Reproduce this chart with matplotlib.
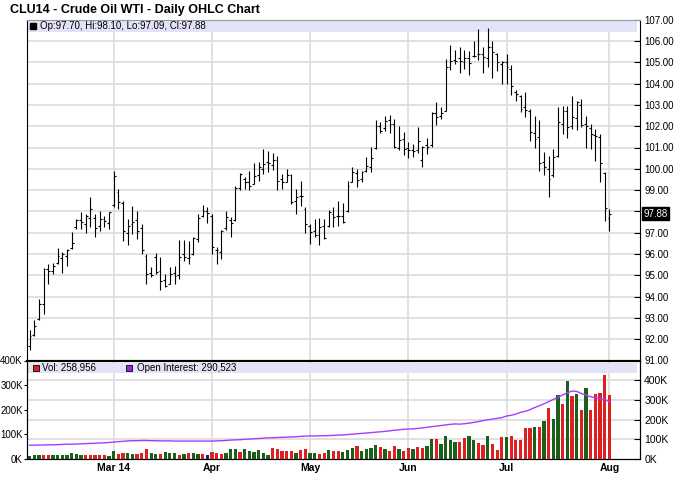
import numpy as np
import pandas as pd
import matplotlib
matplotlib.use('Agg')
import matplotlib.pyplot as plt
import matplotlib.transforms as mtransforms
from matplotlib.patches import Rectangle

plt.rcParams['font.family'] = ['Liberation Sans', 'DejaVu Sans']

# trading days, Feb 4 - Aug 1 2014 (NYMEX holidays removed)
dates = pd.bdate_range('2014-02-04', '2014-08-01')
dates = dates.drop(pd.to_datetime(['2014-02-17', '2014-04-18', '2014-05-26', '2014-07-04']))

opens = [91.70, 92.20, 92.95, 93.66, 95.30, 95.20, 95.60, 95.80, 95.90, 96.30,
         97.25, 97.60, 97.40, 97.70, 97.70, 97.30, 97.65, 97.45, 98.30, 98.90,
         98.40, 97.00, 97.40, 97.60, 97.20, 95.90, 95.10, 95.85, 95.20, 94.80,
         94.60, 95.10, 95.00, 96.00, 95.80, 96.00, 96.70, 97.80, 98.00, 97.80,
         96.20, 96.10, 97.20, 97.60, 97.60, 99.10, 99.50, 99.40, 99.30, 99.70,
         100.00, 100.30, 100.20, 100.40, 99.50, 99.40, 99.70, 98.50, 98.70, 98.10,
         97.30, 97.10, 96.90, 97.30, 97.30, 97.90, 97.80, 97.80, 98.00, 99.40,
         99.80, 99.50, 99.90, 100.10, 101.00, 102.00, 101.90, 102.30, 102.10, 101.00,
         101.40, 101.00, 100.90, 100.90, 100.40, 101.10, 101.10, 102.60, 102.50, 102.70,
         104.80, 105.10, 105.20, 105.00, 105.20, 105.30, 105.40, 105.40, 105.20, 105.70,
         105.40, 104.90, 105.00, 104.70, 103.60, 103.40, 102.90, 102.70, 101.70, 101.50,
         100.30, 100.00, 99.70, 100.60, 102.10, 102.70, 102.00, 102.40, 103.00, 102.10,
         101.90, 101.60, 101.50, 99.80, 97.70]
highs = [92.41, 92.88, 93.90, 95.35, 95.54, 95.57, 96.29, 96.08, 96.24, 97.02,
         97.65, 97.96, 97.88, 98.66, 97.88, 98.04, 97.80, 97.96, 99.90, 99.06,
         98.50, 97.65, 98.27, 98.04, 97.41, 96.00, 95.38, 96.04, 95.85, 95.07,
         95.38, 95.46, 96.66, 96.66, 96.63, 96.82, 97.88, 98.32, 98.20, 97.88,
         96.32, 97.13, 98.04, 97.76, 99.17, 99.79, 99.60, 99.92, 100.26, 100.31,
         100.93, 100.85, 100.73, 100.62, 99.76, 100.00, 99.76, 99.05, 99.45, 98.23,
         97.41, 97.65, 97.69, 97.65, 98.07, 98.20, 98.50, 98.38, 99.45, 100.10,
         100.00, 99.92, 100.54, 101.01, 102.29, 102.18, 102.50, 102.54, 102.34, 102.03,
         101.71, 101.25, 101.17, 101.95, 101.09, 101.45, 102.65, 103.15, 102.92, 105.16,
         105.83, 105.58, 105.74, 105.58, 105.55, 105.99, 106.56, 105.70, 106.61, 105.99,
         105.42, 105.05, 105.39, 104.89, 103.70, 103.48, 103.59, 102.81, 102.50, 102.29,
         100.78, 100.62, 100.93, 102.92, 102.97, 102.97, 103.44, 103.20, 103.28, 102.50,
         102.10, 101.87, 101.64, 99.87, 98.10]
lows = [91.50, 92.14, 92.88, 93.19, 94.60, 95.07, 95.54, 95.10, 95.46, 96.24,
        97.18, 97.18, 96.98, 97.26, 96.82, 97.10, 97.26, 97.18, 98.20, 98.12,
        96.63, 96.40, 96.95, 96.70, 96.00, 94.60, 94.90, 95.07, 94.32, 94.44,
        94.57, 94.57, 94.83, 95.69, 95.54, 95.93, 96.55, 97.73, 97.44, 96.00,
        95.54, 95.77, 97.13, 96.79, 97.57, 99.00, 99.06, 99.00, 99.29, 99.45,
        99.76, 99.84, 99.95, 99.00, 99.06, 99.37, 98.35, 97.88, 98.27, 96.98,
        96.47, 96.79, 96.44, 96.71, 97.26, 97.26, 97.33, 97.44, 97.96, 99.37,
        99.13, 99.37, 99.84, 99.84, 100.93, 101.67, 101.79, 101.67, 100.98, 100.89,
        100.67, 100.51, 100.54, 100.73, 100.07, 100.70, 101.01, 102.07, 102.34, 102.70,
        104.64, 104.92, 104.48, 104.69, 104.42, 105.27, 105.11, 104.48, 104.77, 104.26,
        104.58, 104.00, 103.98, 103.48, 103.17, 102.65, 102.42, 101.32, 100.98, 99.88,
        99.73, 98.66, 99.60, 100.54, 101.64, 101.45, 101.87, 101.82, 101.98, 100.98,
        100.93, 100.35, 99.37, 97.57, 97.09]
closes = [92.17, 92.60, 93.66, 95.30, 95.20, 95.45, 95.90, 96.00, 96.20, 96.50,
          97.60, 97.50, 97.80, 98.10, 97.20, 97.65, 97.57, 97.96, 99.68, 98.43,
          97.10, 97.33, 97.50, 97.10, 96.20, 95.07, 95.00, 95.15, 94.72, 94.52,
          95.07, 94.99, 95.88, 95.85, 95.88, 96.76, 97.69, 98.04, 97.91, 96.35,
          96.19, 97.10, 97.76, 97.44, 99.10, 99.76, 99.37, 99.21, 99.68, 100.07,
          100.23, 100.28, 100.42, 99.45, 99.37, 99.73, 98.43, 98.66, 98.74, 97.41,
          97.02, 96.87, 97.29, 96.76, 97.96, 97.76, 97.79, 97.49, 99.21, 99.84,
          99.48, 99.84, 100.15, 100.51, 102.03, 101.76, 102.26, 102.10, 101.01, 101.36,
          100.93, 100.89, 100.85, 101.32, 101.01, 101.01, 102.60, 102.42, 102.60, 104.77,
          105.05, 105.05, 105.05, 105.20, 104.95, 105.31, 105.39, 105.23, 105.70, 105.47,
          105.00, 105.00, 104.77, 103.90, 103.51, 102.81, 102.76, 101.71, 101.40, 100.26,
          100.07, 99.53, 100.57, 102.18, 102.73, 101.95, 102.42, 103.12, 102.07, 102.03,
          101.64, 101.56, 100.28, 98.16, 97.88]

# volume in thousands, g = up, r = down, n = unchanged
volume = [14, 15, 15, 15, 15, 18, 18, 15, 15, 23,
          21, 18, 18, 18, 15, 15, 15, 12, 34, 21,
          26, 26, 21, 21, 26, 39, 26, 21, 21, 28,
          23, 23, 18, 22, 25, 26, 21, 21, 18, 28,
          26, 22, 26, 40, 39, 28, 39, 32, 29, 37,
          26, 18, 43, 39, 33, 32, 32, 26, 36, 39,
          25, 23, 19, 26, 37, 34, 32, 29, 36, 43,
          54, 32, 39, 43, 57, 48, 39, 32, 52, 39,
          34, 43, 39, 47, 46, 52, 81, 80, 59, 95,
          76, 68, 70, 84, 95, 76, 63, 57, 95, 59,
          36, 91, 90, 95, 77, 77, 126, 126, 130, 130,
          156, 208, 164, 261, 222, 316, 257, 263, 201, 288,
          201, 263, 269, 342, 259]
vol_dir = list('gggrrggggg' 'ggrrrrrggr' 'rggrrrggrg' 'ggrgrggrnr' 'rrgggrgggg'
               'ggrrrrrgrr' 'ggrrgrrggg' 'rggggrgrrg' 'rrgrrggrgg' 'ggrrggrrgr'
               'rrgrrrrrgr' 'grggrgrgrg' 'rrrrr')
open_interest = [70, 70, 71, 71, 72, 72, 73, 74, 75, 75, 76, 77, 78, 79, 80, 81, 82, 84,
                 86, 88, 90, 92, 93, 93, 94, 94, 93, 93, 92, 92, 92, 91, 91, 91, 91, 91, 91, 91, 91,
                 91, 92, 93, 94, 96, 97, 98, 100, 101, 103, 104, 106, 107, 108, 109, 110, 111, 112, 113, 115, 116,
                 117, 117, 118, 118, 119, 120, 121, 122, 124, 126, 128, 130, 132, 134, 136, 138, 140, 143, 146, 148, 151,
                 152, 153, 155, 158, 161, 164, 167, 170, 173, 176, 178, 177, 179, 182, 186, 190, 195, 199, 203, 206, 210,
                 218, 222, 228, 237, 242, 250, 261, 270, 280, 291, 302, 314, 325, 336, 345, 343, 333, 324, 316, 311, 306, 302,
                 291]

month_labels = ['Mar 14', 'Apr', 'May', 'Jun', 'Jul', 'Aug']
price_ticks = np.arange(91, 108)
vol_ticks = [0, 100, 200, 300, 400]

x = np.arange(len(dates))
month_starts = [i for i in range(1, len(dates)) if dates[i].month != dates[i - 1].month]
dir_colors = {'g': '#1c5e1c', 'r': '#dd2020', 'n': '#1c1c6a'}
bar_colors = [dir_colors[d] for d in vol_dir]

grid_col = '#dcdcdc'
band_col = '#e3e3f8'

fig = plt.figure(figsize=(6.8, 4.82), dpi=100)
ax = fig.add_axes([27 / 680, 121.5 / 482, 613 / 680, 340.8 / 482])
axv = fig.add_axes([27 / 680, 23 / 482, 613 / 680, 98.5 / 482])

fig.text(10 / 680, 1 - 10 / 482, 'CLU14 - Crude Oil WTI - Daily OHLC Chart',
         fontsize=9, fontweight='bold', va='center', ha='left')

# price panel
ax.vlines(x, lows, highs, color='black', lw=0.8, zorder=3)
ax.hlines(opens, x - 0.4, x, color='black', lw=0.8, zorder=3)
ax.hlines(closes, x, x + 0.4, color='black', lw=0.8, zorder=3)
ax.set_xlim(-0.55, 130.55)
ax.set_ylim(91, 107)
ax.set_xticks(month_starts)
ax.set_yticks(price_ticks)
ax.set_yticklabels(['' if v == 98 else f'{v:.2f}' for v in price_ticks])
ax.yaxis.tick_right()
ax.tick_params(axis='y', direction='in', length=4, labelsize=7, pad=3)
ax.tick_params(axis='x', length=0, labelbottom=False)
ax.grid(True, color=grid_col, lw=1.2)
ax.set_axisbelow(True)
for s in ['left', 'right']:
    ax.spines[s].set_color('black')
ax.spines['top'].set_color('#9a9a9a')
ax.spines['bottom'].set_linewidth(1.5)
ax.add_patch(Rectangle((0, 0.965), 0.995, 0.035, transform=ax.transAxes,
                       color=band_col, lw=0, zorder=1.5))
ax.plot([0.0105], [0.982], marker='s', ms=4, color='black', transform=ax.transAxes)
ax.text(0.021, 0.982, 'Op:97.70, Hi:98.10, Lo:97.09, Cl:97.88', transform=ax.transAxes,
        fontsize=7, va='center', ha='left')
trans = mtransforms.blended_transform_factory(ax.transAxes, ax.transData)
ax.text(1.005, closes[-1], f'{closes[-1]:.2f}', transform=trans, color='white', fontsize=7,
        va='center', ha='left', clip_on=False,
        bbox=dict(boxstyle='square,pad=0.15', fc='black', ec='black'))

# volume panel
axv.bar(x, np.array(volume) * 1000, width=0.7, color=bar_colors, zorder=3)
axv.set_xlim(-0.55, 130.55)
axv.set_ylim(0, 400000)
axv.set_yticks([v * 1000 for v in vol_ticks])
axv.set_yticklabels([f'{v}K' for v in vol_ticks])
axv.tick_params(axis='y', direction='out', length=2, labelsize=7, pad=1)
axv.set_xticks(month_starts)
axv.set_xticklabels(month_labels, fontsize=7.5, fontweight='bold')
axv.tick_params(axis='x', length=0, pad=3)
axv.grid(True, axis='x', color=grid_col, lw=1.2)
axv.set_axisbelow(True)

axo = axv.twinx()
axo.set_ylim(0, 500000)
axo.plot(x, np.array(open_interest) * 1000, color='#a63cff', lw=1, zorder=4)
axo.set_yticks([v * 1000 for v in vol_ticks])
axo.set_yticklabels([f'{v}K' for v in vol_ticks])
axo.tick_params(axis='y', direction='in', length=4, labelsize=7.5, pad=3)
# horizontal grid follows the right-hand scale
ratio = axv.get_ylim()[1] / axo.get_ylim()[1]
for v in vol_ticks[1:]:
    axv.axhline(v * 1000 * ratio, color=grid_col, lw=1.2, zorder=1)
axv.spines['top'].set_linewidth(1.5)

axv.add_patch(Rectangle((0, 0.876), 0.995, 0.096, transform=axv.transAxes,
                        color=band_col, lw=0, zorder=2))
axv.plot([0.0139], [0.924], marker='s', ms=5, mfc='#dd2020', mec='black', mew=0.6,
         transform=axv.transAxes, zorder=4)
axv.text(0.0245, 0.924, 'Vol: 258,956', transform=axv.transAxes, fontsize=7,
         va='center', ha='left', zorder=4)
axv.plot([0.167], [0.924], marker='s', ms=5, mfc='#9a22ee', mec='black', mew=0.6,
         transform=axv.transAxes, zorder=4)
axv.text(0.179, 0.924, 'Open Interest: 290,523', transform=axv.transAxes, fontsize=7,
         va='center', ha='left', zorder=4)

fig.savefig('out.png', dpi=100)
